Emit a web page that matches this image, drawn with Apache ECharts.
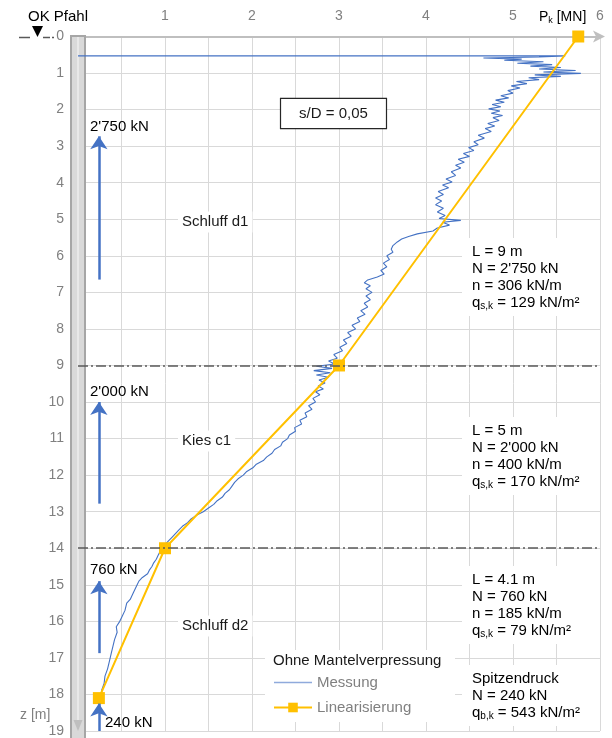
<!DOCTYPE html>
<html>
<head>
<meta charset="utf-8">
<script src="https://cdn.jsdelivr.net/npm/echarts@6/dist/echarts.min.js"></script>
<style>
  html, body { margin: 0; padding: 0; background: #fff; }
  #chart { width: 612px; height: 738px; }
</style>
</head>
<body>
<div id="chart"></div>
<script>
// Messung: depth z [m] and force P [MN]
const measZ = [0.53, 0.53, 0.56, 0.59, 0.62, 0.65, 0.69, 0.73, 0.77, 0.81, 0.85, 0.89, 0.93, 0.97, 1.01, 1.05, 1.09, 1.13, 1.18, 1.23,
  1.29, 1.35, 1.41, 1.48, 1.55, 1.62, 1.68, 1.74, 1.8, 1.86, 1.92, 1.98, 2.04, 2.1, 2.16, 2.22, 2.3, 2.38, 2.45, 2.52,
  2.6, 2.7, 2.78, 2.88, 2.96, 3.04, 3.12, 3.2, 3.28, 3.36, 3.44, 3.52, 3.6, 3.7, 3.8, 3.9, 3.98, 4.06, 4.14, 4.24,
  4.32, 4.42, 4.5, 4.6, 4.7, 4.8, 4.9, 4.98, 5.03, 5.08, 5.16, 5.24, 5.32, 5.4, 5.47, 5.54, 5.62, 5.72, 5.82, 5.9,
  6.0, 6.1, 6.2, 6.3, 6.4, 6.5, 6.58, 6.66, 6.74, 6.82, 6.9, 7.0, 7.1, 7.2, 7.3, 7.4, 7.5, 7.6, 7.7, 7.8,
  7.9, 8.0, 8.1, 8.2, 8.3, 8.4, 8.5, 8.6, 8.7, 8.8, 8.88, 8.96, 9.02, 9.08, 9.14, 9.2, 9.26, 9.32, 9.4, 9.48,
  9.56, 9.64, 9.72, 9.8, 9.9, 10.0, 10.1, 10.2, 10.3, 10.4, 10.5, 10.6, 10.7, 10.8, 10.9, 11.0, 11.1, 11.2, 11.3, 11.4,
  11.5, 11.6, 11.7, 11.8, 11.9, 12.0, 12.1, 12.2, 12.3, 12.4, 12.5, 12.6, 12.7, 12.8, 12.9, 13.0, 13.1, 13.2, 13.3, 13.4,
  13.5, 13.6, 13.7, 13.8, 13.9, 14.0, 14.1, 14.2, 14.3, 14.4, 14.5, 14.6, 14.7, 14.8, 14.9, 15.0, 15.2, 15.4, 15.5, 15.7,
  15.9, 16.0, 16.15, 16.3, 16.5, 16.7, 16.9, 17.1, 17.3, 17.5, 17.7, 17.9];
const measP = [0, 5.6, 5.3, 4.66, 5.1, 4.9, 5.35, 5.05, 5.45, 5.2, 5.55, 5.3, 5.72, 5.35, 5.78, 5.25, 5.55, 5.18, 5.3, 5.04,
  5.16, 4.98, 5.08, 4.94, 5.0, 4.86, 4.95, 4.8, 4.9, 4.76, 4.86, 4.72, 4.85, 4.75, 4.88, 4.77, 4.84, 4.71, 4.79, 4.68,
  4.75, 4.6, 4.67, 4.55, 4.6, 4.49, 4.55, 4.43, 4.5, 4.37, 4.44, 4.34, 4.4, 4.29, 4.34, 4.23, 4.3, 4.19, 4.26, 4.14,
  4.2, 4.11, 4.18, 4.11, 4.2, 4.13, 4.22, 4.15, 4.4, 4.19, 4.27, 4.13, 4.08, 3.9, 3.8, 3.72, 3.67, 3.62, 3.6, 3.62,
  3.55, 3.58, 3.51, 3.55, 3.48, 3.52, 3.44, 3.33, 3.29, 3.36, 3.31, 3.38, 3.31, 3.36, 3.29, 3.33, 3.25, 3.3, 3.21, 3.24,
  3.15, 3.19, 3.1, 3.14, 3.05, 3.09, 3.01, 3.04, 2.94, 2.98, 2.88, 2.95, 2.74, 2.92, 2.71, 2.9, 2.74, 2.88, 2.77, 2.84,
  2.76, 2.82, 2.73, 2.78, 2.7, 2.73, 2.65, 2.69, 2.61, 2.63, 2.55, 2.57, 2.49, 2.5, 2.43, 2.41, 2.35, 2.33, 2.26, 2.23,
  2.17, 2.13, 2.05, 2.01, 1.94, 1.9, 1.84, 1.8, 1.77, 1.74, 1.69, 1.66, 1.6, 1.56, 1.5, 1.44, 1.36, 1.3, 1.26, 1.2,
  1.16, 1.12, 1.08, 1.04, 1.0, 0.97, 0.94, 0.92, 0.9, 0.87, 0.85, 0.82, 0.8, 0.74, 0.7, 0.68, 0.64, 0.6, 0.56, 0.54,
  0.5, 0.48, 0.44, 0.45, 0.42, 0.4, 0.38, 0.36, 0.34, 0.31, 0.3, 0.27];

// Linearisierung
const linZ = [0, 9, 14, 18.1];
const linP = [5.75, 3.0, 1.0, 0.24];

// layer boundaries (dash-dot lines)
const layerZ = [9, 14];

// shaft / tip force arrows
const arrowP = 0.24;
const arrowFromZ = [6.65, 12.78, 16.87, 19.0];
const arrowToZ = [2.73, 10.0, 14.9, 18.25];
const arrowLabels = ["2'750 kN", "2'000 kN", '760 kN', '240 kN'];

const FONT = '"Liberation Sans", Arial, sans-serif';
const BLUE = '#4472C4';
const ORANGE = '#FFC000';
const GRID = '#d9d9d9';
const AXISTXT = '#808080';

const chart = echarts.init(document.getElementById('chart'));

const measData = measZ.map((z, i) => [measP[i], z]);
const linData = linZ.map((z, i) => [linP[i], z]);

const arrowLines = arrowFromZ.map((z, i) => [
  { coord: [arrowP, z], symbol: 'none' },
  { coord: [arrowP, arrowToZ[i]], symbol: 'arrow' }
]);

const richBase = {
  t: { fontSize: 15, lineHeight: 17, color: '#1a1a1a', fontFamily: FONT },
  sub: { fontSize: 10, lineHeight: 8, verticalAlign: 'bottom', color: '#1a1a1a', fontFamily: FONT }
};

function infoBlock(x, y, lines) {
  return {
    type: 'text', x: x, y: y, z: 3,
    style: {
      text: lines.join('\n'),
      rich: richBase,
      backgroundColor: '#fff',
      padding: [5, 12, 5, 10],
      width: 116
    }
  };
}

function plainText(x, y, text, opts) {
  return {
    type: 'text', x: x, y: y, z: 3,
    style: Object.assign({
      text: text, fontSize: 15, fontFamily: FONT, fill: '#1a1a1a',
      verticalAlign: 'middle'
    }, opts || {})
  };
}

const arrowTextPos = [[90, 127], [90, 392], [90, 570], [105, 723]];

const graphics = [
  // pile
  { type: 'rect', z: 1, shape: { x: 71, y: 36, width: 14, height: 720 },
    style: { fill: '#d9d9d9', stroke: '#a6a6a6', lineWidth: 2 } },
  { type: 'line', z: 1, shape: { x1: 78, y1: 37, x2: 78, y2: 722 },
    style: { stroke: '#ececec', lineWidth: 1.5 } },
  { type: 'polygon', z: 1, shape: { points: [[73.5, 720], [82.5, 720], [78, 731]] },
    style: { fill: '#bfbfbf' } },
  // OK Pfahl marker
  plainText(28, 17, 'OK Pfahl', { fill: '#000' }),
  { type: 'polygon', z: 3, shape: { points: [[32, 26], [43, 26], [37.5, 37]] },
    style: { fill: '#000' } },
  { type: 'line', z: 3, shape: { x1: 19, y1: 37.5, x2: 30, y2: 37.5 }, style: { stroke: '#595959', lineWidth: 1.5 } },
  { type: 'line', z: 3, shape: { x1: 43, y1: 37.5, x2: 50, y2: 37.5 }, style: { stroke: '#595959', lineWidth: 1.5 } },
  { type: 'line', z: 3, shape: { x1: 52, y1: 37.5, x2: 54, y2: 37.5 }, style: { stroke: '#595959', lineWidth: 1.5 } },
  // axis title
  { type: 'text', x: 539, y: 17, z: 3,
    style: {
      text: '{a|P}{s|k}{a| [MN]}', verticalAlign: 'middle',
      rich: {
        a: { fontSize: 14, lineHeight: 16, color: AXISTXT, fontFamily: FONT },
        s: { fontSize: 9, lineHeight: 7, verticalAlign: 'bottom', color: AXISTXT, fontFamily: FONT }
      }
    } },
  { type: 'text', x: 20, y: 715, z: 3,
    style: { text: 'z [m]', fontSize: 14, fontFamily: FONT, fill: AXISTXT, verticalAlign: 'middle' } },
  // s/D box
  { type: 'text', x: 333.5, y: 113.5, z: 3,
    style: {
      text: 's/D = 0,05', fontSize: 15, fontFamily: FONT, fill: '#1a1a1a',
      align: 'center', verticalAlign: 'middle',
      backgroundColor: '#fff', borderColor: '#262626', borderWidth: 1.2, padding: [7, 18]
    } },
  // soil layers
  plainText(178, 222, 'Schluff d1', { backgroundColor: '#fff', padding: [3, 4] }),
  plainText(178, 441, 'Kies c1', { backgroundColor: '#fff', padding: [3, 4] }),
  plainText(178, 626, 'Schluff d2', { backgroundColor: '#fff', padding: [3, 4] }),
  // info blocks
  infoBlock(462, 238, ['{t|L = 9 m}', "{t|N = 2'750 kN}", '{t|n = 306 kN/m}', '{t|q}{sub|s,k}{t| = 129 kN/m²}']),
  infoBlock(462, 417, ['{t|L = 5 m}', "{t|N = 2'000 kN}", '{t|n = 400 kN/m}', '{t|q}{sub|s,k}{t| = 170 kN/m²}']),
  infoBlock(462, 566, ['{t|L = 4.1 m}', '{t|N = 760 kN}', '{t|n = 185 kN/m}', '{t|q}{sub|s,k}{t| = 79 kN/m²}']),
  infoBlock(462, 665, ['{t|Spitzendruck}', '{t|N = 240 kN}', '{t|q}{sub|b,k}{t| = 543 kN/m²}']),
  // legend box
  { type: 'rect', z: 1, shape: { x: 265, y: 650, width: 190, height: 72 }, style: { fill: '#fff' } },
  plainText(273, 661, 'Ohne Mantelverpressung', { fill: '#1a1a1a' })
];

arrowLabels.forEach((txt, i) => {
  graphics.push(plainText(arrowTextPos[i][0], arrowTextPos[i][1], txt, { fill: '#000' }));
});

const option = {
  animation: false,
  backgroundColor: '#fff',
  textStyle: { fontFamily: FONT },
  grid: { left: 78, top: 36.5, right: 12, bottom: 3.5 },
  xAxis: {
    type: 'value',
    position: 'top',
    min: 0,
    max: 6,
    interval: 0.5,
    axisLine: {
      show: true,
      lineStyle: { color: '#bfbfbf', width: 2 },
      symbol: ['none', 'arrow'],
      symbolSize: [9, 12],
      symbolOffset: [0, 5]
    },
    axisTick: { show: false },
    axisLabel: {
      color: AXISTXT,
      fontSize: 14,
      margin: 13,
      showMaxLabel: true,
      formatter: v => (v > 0 && Number.isInteger(v)) ? String(v) : ''
    },
    splitLine: { lineStyle: { color: GRID, width: 1 } }
  },
  yAxis: {
    type: 'value',
    inverse: true,
    min: 0,
    max: 19,
    interval: 1,
    axisLine: { show: false },
    axisTick: { show: false },
    axisLabel: { color: AXISTXT, fontSize: 14, margin: 14, showMaxLabel: true },
    splitLine: { lineStyle: { color: GRID, width: 1 } }
  },
  legend: {
    data: [
      { name: 'Messung', itemStyle: { opacity: 0 }, lineStyle: { width: 1.5, color: '#8faadc' } },
      { name: 'Linearisierung' }
    ],
    orient: 'vertical',
    left: 268,
    top: 670,
    itemWidth: 38,
    itemHeight: 12,
    itemGap: 10,
    padding: 5,
    textStyle: { color: AXISTXT, fontSize: 15, fontFamily: FONT }
  },
  series: [
    {
      name: 'Messung',
      type: 'line',
      data: measData,
      symbol: 'none',
      z: 3,
      lineStyle: { color: BLUE, width: 1.1 },
      itemStyle: { color: BLUE }
    },
    {
      name: 'Linearisierung',
      type: 'line',
      data: linData,
      symbol: 'rect',
      symbolSize: 12,
      z: 4,
      lineStyle: { color: ORANGE, width: 2 },
      itemStyle: { color: ORANGE }
    },
    {
      name: 'layers',
      type: 'line',
      data: [],
      z: 2,
      markLine: {
        silent: true,
        symbol: ['none', 'none'],
        label: { show: false },
        lineStyle: { color: '#595959', type: [10, 3, 2, 3], width: 1.5 },
        data: layerZ.map(z => ({ yAxis: z }))
      }
    },
    {
      name: 'arrows',
      type: 'line',
      data: [],
      z: 3,
      markLine: {
        silent: true,
        symbolSize: 13,
        label: { show: false },
        lineStyle: { color: BLUE, type: 'solid', width: 2.5 },
        data: arrowLines
      }
    }
  ],
  graphic: graphics
};

chart.setOption(option);
</script>
</body>
</html>
